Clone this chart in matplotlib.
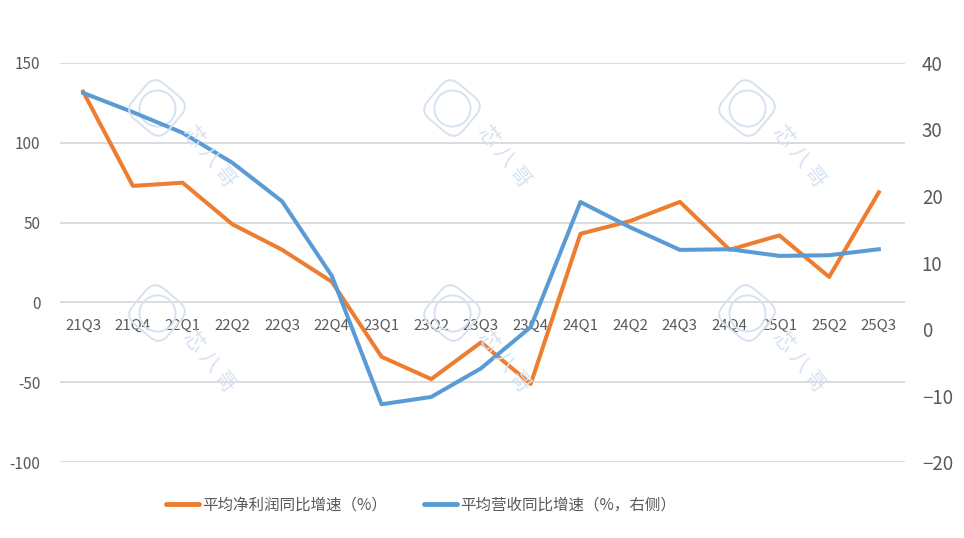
import matplotlib
matplotlib.use("Agg")
import matplotlib.pyplot as plt
from matplotlib.patches import FancyBboxPatch
from matplotlib.transforms import Affine2D

plt.rcParams['font.family'] = ['Noto Sans CJK SC', 'DejaVu Sans']

# === данные ===
quarters = ["21Q3", "21Q4", "22Q1", "22Q2", "22Q3", "22Q4", "23Q1", "23Q2", "23Q3",
            "23Q4", "24Q1", "24Q2", "24Q3", "24Q4", "25Q1", "25Q2", "25Q3"]
profit_growth = [132, 73, 75, 49, 33, 13, -34, -48, -25, -51, 43, 51, 63, 33, 42, 16, 69]
revenue_growth = [35.5, 32.6, 29.5, 25.0, 19.2, 8.0, -11.3, -10.2, -5.9, 0.3,
                  19.1, 15.3, 11.9, 12.0, 11.0, 11.1, 12.0]
left_ticks = [-100, -50, 0, 50, 100, 150]
right_ticks = [-20, -10, 0, 10, 20, 30, 40]

ORANGE = "#ED7D31"
BLUE = "#5B9BD5"
GRAY = "#595959"
WM = "#D6E2F0"

W, H = 964, 538
fig = plt.figure(figsize=(W / 100, H / 100), dpi=100)
ax = fig.add_axes([0.062, 0.141, 0.877, 0.742])
ax2 = ax.twinx()

x = list(range(len(quarters)))

ax.set_xlim(-0.47, 16.53)
ax.set_ylim(-100, 150)
ax2.set_ylim(-20, 40)

ax.set_yticks(left_ticks)
ax.set_yticklabels([str(v) for v in left_ticks])
ax2.set_yticks(right_ticks)
ax.grid(axis="y", color="#D9D9D9", linewidth=1.3)
ax.set_axisbelow(True)

for a in (ax, ax2):
    for s in a.spines.values():
        s.set_visible(False)

ax.spines['bottom'].set_position(('data', 0))
ax.set_xticks(x)
ax.set_xticklabels(quarters)
ax.tick_params(axis="x", length=0, pad=12, labelsize=10.8, labelcolor=GRAY)
ax.tick_params(axis="y", length=0, pad=14, labelsize=11, labelcolor=GRAY)
ax2.tick_params(axis="y", length=0, pad=12, labelsize=13.5, labelcolor=GRAY)

# водяные знаки (в пикселях)
for cx, cy in [(157, 108), (452, 108), (747, 108), (157, 313), (452, 313), (747, 313)]:
    bw = 46
    py = H - cy
    box = FancyBboxPatch((cx - bw / 2, py - bw / 2), bw, bw,
                         boxstyle="round,pad=0,rounding_size=13",
                         transform=Affine2D().rotate_deg_around(cx, py, -40),
                         fill=False, ec=WM, lw=1.4, zorder=1)
    fig.add_artist(box)
    ax.plot([cx / W], [py / H], marker="o", ms=26, mfc="none", mec=WM, mew=1.4,
            transform=fig.transFigure, zorder=1)
    fig.text((cx + 52) / W, (py - 48) / H, "芯 八 哥", rotation=-52, fontsize=15,
             color=WM, ha="center", va="center", zorder=1)

l1, = ax.plot(x, profit_growth, color=ORANGE, linewidth=2.9, solid_joinstyle="round",
              label="平均净利润同比增速（%）", zorder=3)
l2, = ax2.plot(x, revenue_growth, color=BLUE, linewidth=2.9, solid_joinstyle="round",
               label="平均营收同比增速（%，右侧）", zorder=3)

leg = fig.legend(handles=[l1, l2], loc="center", bbox_to_anchor=(0.437, 0.061), ncol=2,
                 frameon=False, fontsize=11.2, handlelength=2.1, handletextpad=0.2,
                 columnspacing=2.4)
for t in leg.get_texts():
    t.set_color(GRAY)
for h in leg.get_lines():
    h.set_linewidth(3.5)
    h.set_solid_capstyle("round")

fig.savefig("out.png", dpi=100)
